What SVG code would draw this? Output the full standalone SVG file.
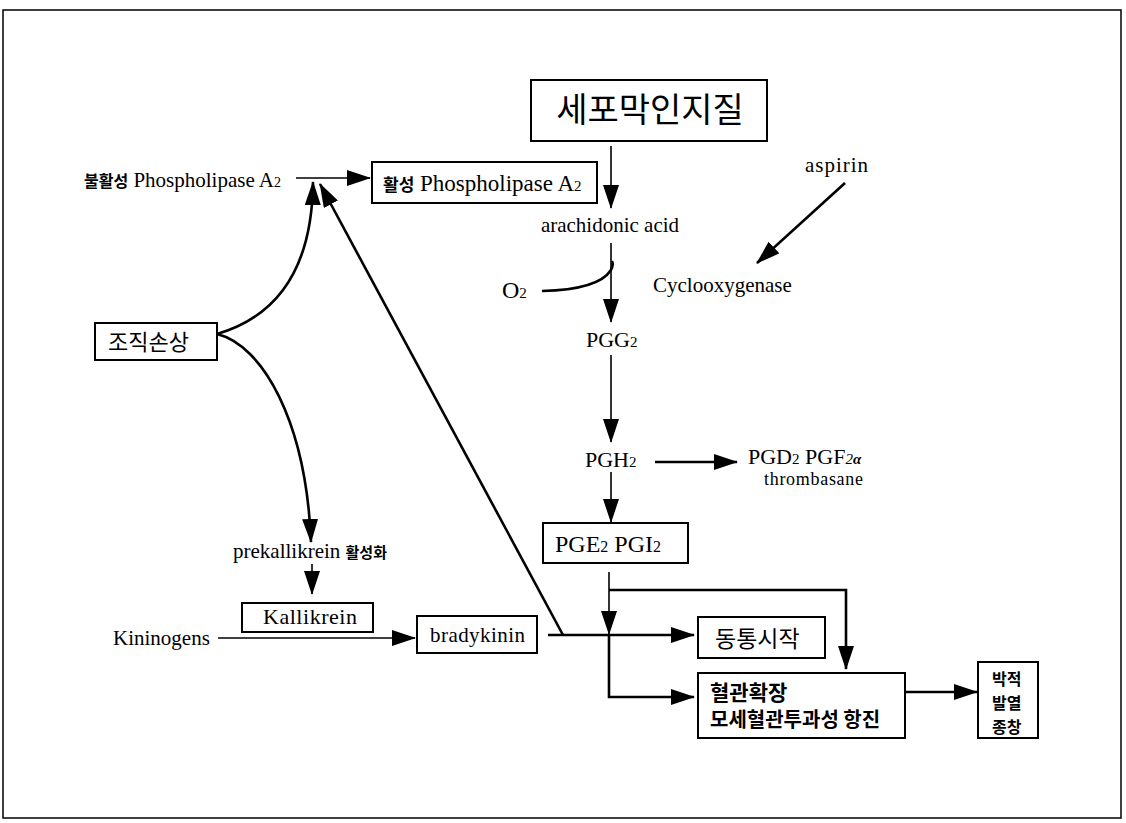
<svg xmlns="http://www.w3.org/2000/svg" width="1126" height="823" viewBox="0 0 1126 823">
<style>
.bg{fill:#fff}
.frame{fill:none;stroke:#000;stroke-width:1.5}
.box{fill:#fff;stroke:#000;stroke-width:2}
.t{font-family:"Liberation Serif","Noto Serif",serif;fill:#000}
.k{font-family:"Noto Sans CJK KR","Noto Sans",sans-serif;fill:#000}
.thin{fill:none;stroke:#000;stroke-width:1.6}
.thick{fill:none;stroke:#000;stroke-width:2.6}
</style>
<defs>
<marker id="ah" viewBox="0 0 24 16" refX="23" refY="8" markerWidth="24" markerHeight="16" markerUnits="userSpaceOnUse" orient="auto">
<path d="M0,0 L24,8 L0,16 z" fill="#000"/>
</marker>
</defs>
<rect class="bg" x="0" y="0" width="1126" height="823"/>
<rect class="frame" x="3" y="10" width="1118" height="808"/>

<g id="connectors">
<line class="thin" x1="296" y1="178" x2="370" y2="178" marker-end="url(#ah)"/>
<path class="thick" d="M217,334 C265,320 312,282 313,182" marker-end="url(#ah)"/>
<line class="thick" x1="563" y1="635" x2="320" y2="184" marker-end="url(#ah)"/>
<path class="thick" d="M217,334 C262,345 306,420 311,542" marker-end="url(#ah)"/>
<line class="thin" x1="312" y1="564" x2="312" y2="594" marker-end="url(#ah)"/>
<line class="thin" x1="218" y1="638" x2="415" y2="638" marker-end="url(#ah)"/>
<line class="thick" x1="548" y1="635" x2="694" y2="635" marker-end="url(#ah)"/>
<line class="thin" x1="611" y1="146" x2="611" y2="208" marker-end="url(#ah)"/>
<line class="thin" x1="611" y1="243" x2="611" y2="322" marker-end="url(#ah)"/>
<path class="thick" d="M542,291 C584,290 604,281 611,270 C613,266 613,263 612,261"/>
<line class="thick" x1="845" y1="183" x2="757" y2="263" marker-end="url(#ah)"/>
<line class="thin" x1="611" y1="355" x2="611" y2="442" marker-end="url(#ah)"/>
<line class="thick" x1="655" y1="462" x2="737" y2="462" marker-end="url(#ah)"/>
<line class="thin" x1="611" y1="472" x2="611" y2="522" marker-end="url(#ah)"/>
<line class="thin" x1="609" y1="572" x2="609" y2="590"/>
<path class="thick" d="M609,590 L846,590 L846,669" marker-end="url(#ah)"/>
<line class="thin" x1="609" y1="590" x2="609" y2="634" marker-end="url(#ah)"/>
<path class="thick" d="M609,635 L609,697 L694,697" marker-end="url(#ah)"/>
<line class="thick" x1="905" y1="692" x2="977" y2="692" marker-end="url(#ah)"/>
</g>

<g id="inactive-pla2">
<text class="t" x="84" y="187" font-size="21"><tspan class="k" font-size="16" font-weight="bold">불활성</tspan> Phospholipase A<tspan font-size="14">2</tspan></text>
</g>
<g id="active-pla2">
<rect class="box" x="372" y="162" width="225" height="41"/>
<text class="t" x="383" y="191" font-size="23"><tspan class="k" font-size="17" font-weight="bold">활성</tspan> Phospholipase A<tspan font-size="15">2</tspan></text>
</g>
<g id="membrane">
<rect class="box" x="531" y="80" width="236" height="61"/>
<text class="k" x="650" y="122" font-size="34" text-anchor="middle">세포막인지질</text>
</g>
<g id="arachidonic">
<text class="t" x="610" y="232" font-size="21" text-anchor="middle">arachidonic acid</text>
</g>
<g id="o2">
<text class="t" x="502" y="298" font-size="24">O<tspan font-size="15">2</tspan></text>
</g>
<g id="aspirin">
<text class="t" x="805" y="172" font-size="21" textLength="63">aspirin</text>
</g>
<g id="cox">
<text class="t" x="653" y="292" font-size="21">Cyclooxygenase</text>
</g>
<g id="pgg2">
<text class="t" x="586" y="347" font-size="22">PGG<tspan font-size="15">2</tspan></text>
</g>
<g id="pgh2">
<text class="t" x="585" y="467" font-size="22">PGH<tspan font-size="15">2</tspan></text>
</g>
<g id="pgd2">
<text class="t" x="748" y="464" font-size="22">PGD<tspan font-size="15">2</tspan> PGF<tspan font-size="15" font-style="italic">2</tspan><tspan font-size="15" font-style="italic" font-weight="bold">α</tspan></text>
<text class="t" x="764" y="485" font-size="18" textLength="99">thrombasane</text>
</g>
<g id="pge2">
<rect class="box" x="543" y="523" width="145" height="40"/>
<text class="t" x="555" y="552" font-size="24">PGE<tspan font-size="16">2</tspan> PGI<tspan font-size="16">2</tspan></text>
</g>
<g id="tissue">
<rect class="box" x="95" y="323" width="122" height="37"/>
<text class="k" x="108" y="350" font-size="22">조직손상</text>
</g>
<g id="prekallikrein">
<text class="t" x="233" y="558" font-size="21">prekallikrein <tspan class="k" font-size="15" font-weight="bold">활성화</tspan></text>
</g>
<g id="kallikrein">
<rect class="box" x="242" y="603" width="131" height="29"/>
<text class="t" x="263" y="624" font-size="22" textLength="94">Kallikrein</text>
</g>
<g id="kininogens">
<text class="t" x="113" y="645" font-size="21">Kininogens</text>
</g>
<g id="bradykinin">
<rect class="box" x="417" y="616" width="120" height="37"/>
<text class="t" x="430" y="642" font-size="21" textLength="95">bradykinin</text>
</g>
<g id="pain">
<rect class="box" x="698" y="617" width="127" height="41"/>
<text class="k" x="715" y="647" font-size="23">동통시작</text>
</g>
<g id="vasodilation">
<rect class="box" x="698" y="673" width="207" height="65"/>
<text class="k" x="710" y="700" font-size="21" font-weight="bold">혈관확장</text>
<text class="k" x="710" y="727" font-size="20" font-weight="bold">모세혈관투과성 항진</text>
</g>
<g id="symptoms">
<rect class="box" x="978" y="662" width="60" height="76"/>
<text class="k" x="992" y="685" font-size="16" font-weight="bold">박적</text>
<text class="k" x="992" y="709" font-size="16" font-weight="bold">발열</text>
<text class="k" x="992" y="733" font-size="16" font-weight="bold">종창</text>
</g>
</svg>
